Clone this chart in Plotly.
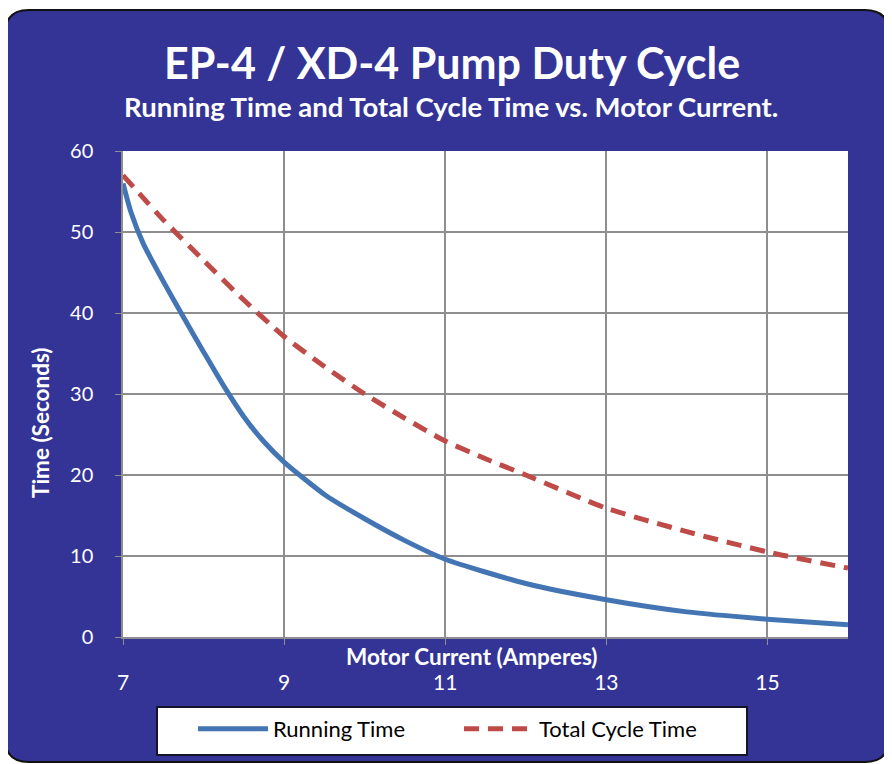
import plotly.graph_objects as go

# ---- data ----
run_x = [7, 7.1, 7.25, 7.5, 7.75, 8, 8.25, 8.5, 8.75, 9, 9.5, 10, 10.5, 11, 12, 13, 14, 15, 16]
run_y = [56, 52.4, 48.6, 43.9, 39.5, 35.2, 31.0, 27.2, 24.1, 21.6, 17.6, 14.6, 11.9, 9.6, 6.6, 4.6, 3.1, 2.2, 1.5]
cyc_x = [7, 7.5, 8, 8.5, 9, 9.5, 10, 10.5, 11, 11.5, 12, 13, 14, 15, 16]
cyc_y = [57, 51.5, 46.5, 41.6, 37.1, 33.4, 30.0, 27.0, 24.2, 22.0, 20.0, 15.9, 13.0, 10.5, 8.5]
x_ticks = [7, 9, 11, 13, 15]
y_ticks = [0, 10, 20, 30, 40, 50, 60]

title = "EP-4 / XD-4 Pump Duty Cycle"
subtitle = "Running Time and Total Cycle Time vs. Motor Current."
x_title = "Motor Current (Amperes)"
y_title = "Time (Seconds)"

# page has an 8px body margin, so the figure is offset by 8px
W, H = 884, 756
L, T = 115, 143
PW, PH = 725, 486
R, B = W - L - PW, H - T - PH
FONT = "Lato"
PANEL = "#343497"

# reference-picture pixel -> paper coordinates
RX0, RY1 = 123, 637


def px(x):
    return (x - RX0) / PW


def py(y):
    return (RY1 - y) / PH


def rounded(x0, y0, x1, y1, r):
    rx, ry = r / PW, r / PH
    a, b, c, d = px(x0), px(x1), py(y0), py(y1)  # c top, d bottom
    return (f"M {a + rx},{c} L {b - rx},{c} Q {b},{c} {b},{c - ry} "
            f"L {b},{d + ry} Q {b},{d} {b - rx},{d} L {a + rx},{d} "
            f"Q {a},{d} {a},{d + ry} L {a},{c - ry} Q {a},{c} {a + rx},{c} Z")


fig = go.Figure()
fig.add_trace(go.Scatter(x=run_x, y=run_y, mode="lines", name="Running Time",
                         line=dict(color="#4375B4", width=5, shape="spline", smoothing=0.6)))
fig.add_trace(go.Scatter(x=cyc_x, y=cyc_y, mode="lines", name="Total Cycle Time",
                         line=dict(color="#BE4B48", width=5, dash="15px,9px", shape="spline", smoothing=0.6)))

shapes = [
    dict(type="path", xref="paper", yref="paper", layer="below",
         path=rounded(5, 10, 889, 762, 24), fillcolor=PANEL,
         line=dict(color="#111111", width=2)),
    dict(type="rect", xref="paper", yref="paper", layer="below",
         x0=0, x1=1, y0=0, y1=1, fillcolor="white", line=dict(width=0)),
    dict(type="rect", xref="paper", yref="paper", layer="below",
         x0=px(157), x1=px(747), y0=py(755), y1=py(707), fillcolor="white",
         line=dict(color="#15152a", width=2)),
]

annotations = [
    dict(text=f"<b>{title}</b>", x=px(452), y=py(63), xref="paper", yref="paper",
         showarrow=False, font=dict(family=FONT, size=43, color="white"),
         xanchor="center", yanchor="middle"),
    dict(text=f"<b>{subtitle}</b>", x=px(451), y=py(107), xref="paper", yref="paper",
         showarrow=False, font=dict(family=FONT, size=27.5, color="white"),
         xanchor="center", yanchor="middle"),
    dict(text=f"<b>{x_title}</b>", x=px(472), y=py(656), xref="paper", yref="paper",
         showarrow=False, font=dict(family=FONT, size=22.5, color="white"),
         xanchor="center", yanchor="middle"),
    dict(text=f"<b>{y_title}</b>", x=px(40), y=py(423), xref="paper", yref="paper",
         showarrow=False, textangle=-90, font=dict(family=FONT, size=22.5, color="white"),
         xanchor="center", yanchor="middle"),
]

fig.update_layout(
    width=W, height=H,
    margin=dict(l=L, r=R, t=T, b=B, pad=0),
    paper_bgcolor="white", plot_bgcolor="white",
    font=dict(family=FONT, color="white", size=19),
    shapes=shapes, annotations=annotations,
    showlegend=True,
    legend=dict(orientation="h", x=px(193), xanchor="left", y=py(729), yanchor="middle",
                bgcolor="rgba(0,0,0,0)", borderwidth=0,
                font=dict(family=FONT, size=22, color="black"),
                itemwidth=70, entrywidth=181, tracegroupgap=0),
)
fig.update_xaxes(range=[7, 16], tickvals=x_ticks, ticktext=[str(v) for v in x_ticks],
                 showgrid=True, gridcolor="#8E8E8E", gridwidth=1.5,
                 showline=True, linecolor="#8E8E8E", linewidth=1.5,
                 ticks="outside", ticklen=6, tickcolor="#8E8E8E",
                 ticklabelstandoff=20, zeroline=False,
                 tickfont=dict(family=FONT, size=21, color="white"))
fig.update_yaxes(range=[0, 60], tickvals=y_ticks, ticktext=[str(v) for v in y_ticks],
                 showgrid=True, gridcolor="#8E8E8E", gridwidth=1.5,
                 showline=True, linecolor="#8E8E8E", linewidth=1.5,
                 ticks="outside", ticklen=6, tickcolor="#8E8E8E",
                 ticklabelstandoff=18, zeroline=False,
                 tickfont=dict(family=FONT, size=20, color="white"))

fig.write_html("out.html")
